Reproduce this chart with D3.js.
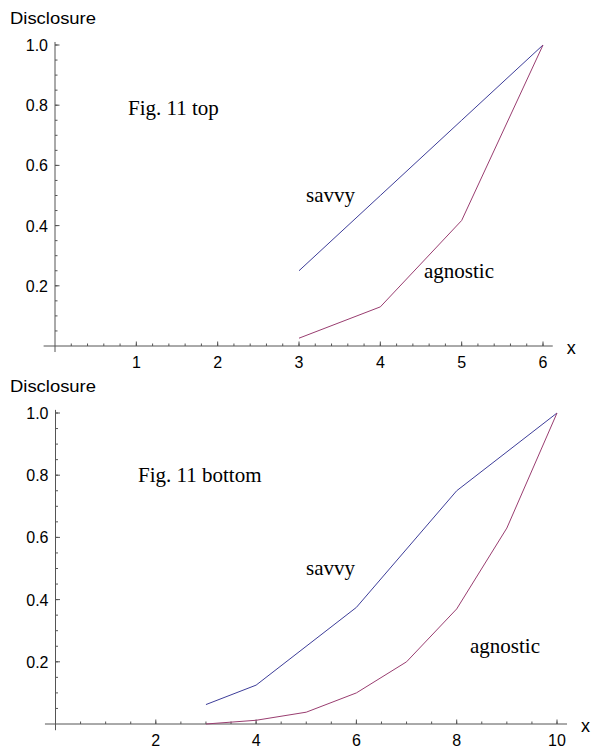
<!DOCTYPE html>
<html><head><meta charset="utf-8">
<script src="https://cdn.jsdelivr.net/npm/d3@7"></script>
<style>body{margin:0;background:#fff}svg{display:block}</style>
</head><body>
<svg id="c" width="592" height="748"></svg>
<script>
// ---- data ----
const topSavvyX = [3, 4, 5, 6];
const topSavvyY = [0.25, 0.5, 0.75, 1.0];
const topAgnosticX = [3, 4, 5, 6];
const topAgnosticY = [0.026, 0.13, 0.417, 1.0];
const topXTicks = [1, 2, 3, 4, 5, 6];

const botSavvyX = [3, 4, 6, 8, 10];
const botSavvyY = [0.0625, 0.125, 0.375, 0.75, 1.0];
const botAgnosticX = [3, 4, 5, 6, 7, 8, 9, 10];
const botAgnosticY = [0.0, 0.012, 0.038, 0.1, 0.2, 0.37, 0.63, 1.0];
const botXTicks = [2, 4, 6, 8, 10];

const yTicks = [0.2, 0.4, 0.6, 0.8, 1.0];
const yLabel = "Disclosure";
const xLabel = "x";

const svg = d3.select("#c");
const blue = "#3d3d99", red = "#993d70", axisCol = "#555";
const sans = "Liberation Sans, Arial, sans-serif";
const serif = "Liberation Serif, Times New Roman, serif";

function panel(cfg) {
  const g = svg.append("g");
  const x = d3.scaleLinear().domain([0, cfg.xmax]).range([cfg.x0, cfg.x1]);
  const y = d3.scaleLinear().domain([0, 1]).range([cfg.y0, cfg.y1]);
  // axes lines
  g.append("line").attr("x1", x(cfg.xlo)).attr("x2", x(cfg.xhi))
    .attr("y1", y(0)).attr("y2", y(0)).attr("stroke", axisCol).attr("stroke-width", 1);
  g.append("line").attr("x1", x(0)).attr("x2", x(0))
    .attr("y1", y(1.01)).attr("y2", y(-0.02)).attr("stroke", axisCol).attr("stroke-width", 1);
  // x ticks
  const xMinor = d3.range(cfg.minorStep, cfg.xhi, cfg.minorStep);
  g.selectAll(".xm").data(xMinor).join("line")
    .attr("x1", d => x(d)).attr("x2", d => x(d))
    .attr("y1", y(0)).attr("y2", y(0) - 2.5).attr("stroke", axisCol);
  g.selectAll(".xM").data(cfg.xticks).join("line")
    .attr("x1", d => x(d)).attr("x2", d => x(d))
    .attr("y1", y(0)).attr("y2", y(0) - 4.5).attr("stroke", axisCol);
  g.selectAll(".xl").data(cfg.xticks).join("text")
    .attr("x", d => x(d)).attr("y", y(0) + 22)
    .attr("text-anchor", "middle").attr("font-family", sans)
    .attr("font-size", 16).text(d => d);
  g.append("text").attr("x", x(cfg.xhi) + 14).attr("y", y(0) + 8)
    .attr("font-family", sans).attr("font-size", 18).text(xLabel);
  // y ticks
  const yMinor = d3.range(0.05, 1.0001, 0.05);
  g.selectAll(".ym").data(yMinor).join("line")
    .attr("x1", x(0)).attr("x2", x(0) + 2.5)
    .attr("y1", d => y(d)).attr("y2", d => y(d)).attr("stroke", axisCol);
  g.selectAll(".yM").data(yTicks).join("line")
    .attr("x1", x(0)).attr("x2", x(0) + 4.5)
    .attr("y1", d => y(d)).attr("y2", d => y(d)).attr("stroke", axisCol);
  g.selectAll(".yl").data(yTicks).join("text")
    .attr("x", x(0) - 7).attr("y", d => y(d) + 6)
    .attr("text-anchor", "end").attr("font-family", sans)
    .attr("font-size", 16).text(d => d3.format(".1f")(d));
  g.append("text").attr("x", 10).attr("y", cfg.ylabY)
    .attr("font-family", sans).attr("font-size", 16)
    .attr("textLength", 86).attr("lengthAdjust", "spacingAndGlyphs").text(yLabel);
  // lines
  const line = d3.line().x(d => x(d[0])).y(d => y(d[1]));
  g.append("path").datum(d3.zip(cfg.sx, cfg.sy)).attr("d", line)
    .attr("fill", "none").attr("stroke", blue).attr("stroke-width", 1);
  g.append("path").datum(d3.zip(cfg.ax, cfg.ay)).attr("d", line)
    .attr("fill", "none").attr("stroke", red).attr("stroke-width", 1);
  // annotations
  cfg.notes.forEach(n => {
    g.append("text").attr("x", n[1]).attr("y", n[2])
      .attr("font-family", serif).attr("font-size", 21).text(n[0]);
  });
}

panel({
  xmax: 6, x0: 55, x1: 543, y0: 346, y1: 45, xlo: -0.14, xhi: 6.12, minorStep: 0.2,
  xticks: topXTicks, ylabY: 24,
  sx: topSavvyX, sy: topSavvyY, ax: topAgnosticX, ay: topAgnosticY,
  notes: [["Fig. 11 top", 128, 115], ["savvy", 306, 202], ["agnostic", 424, 278]]
});
panel({
  xmax: 10, x0: 55.5, x1: 557, y0: 724, y1: 413, xlo: -0.21, xhi: 10.2, minorStep: 0.5,
  xticks: botXTicks, ylabY: 392,
  sx: botSavvyX, sy: botSavvyY, ax: botAgnosticX, ay: botAgnosticY,
  notes: [["Fig. 11 bottom", 138, 482], ["savvy", 306, 575], ["agnostic", 470, 653]]
});
</script>
</body></html>
